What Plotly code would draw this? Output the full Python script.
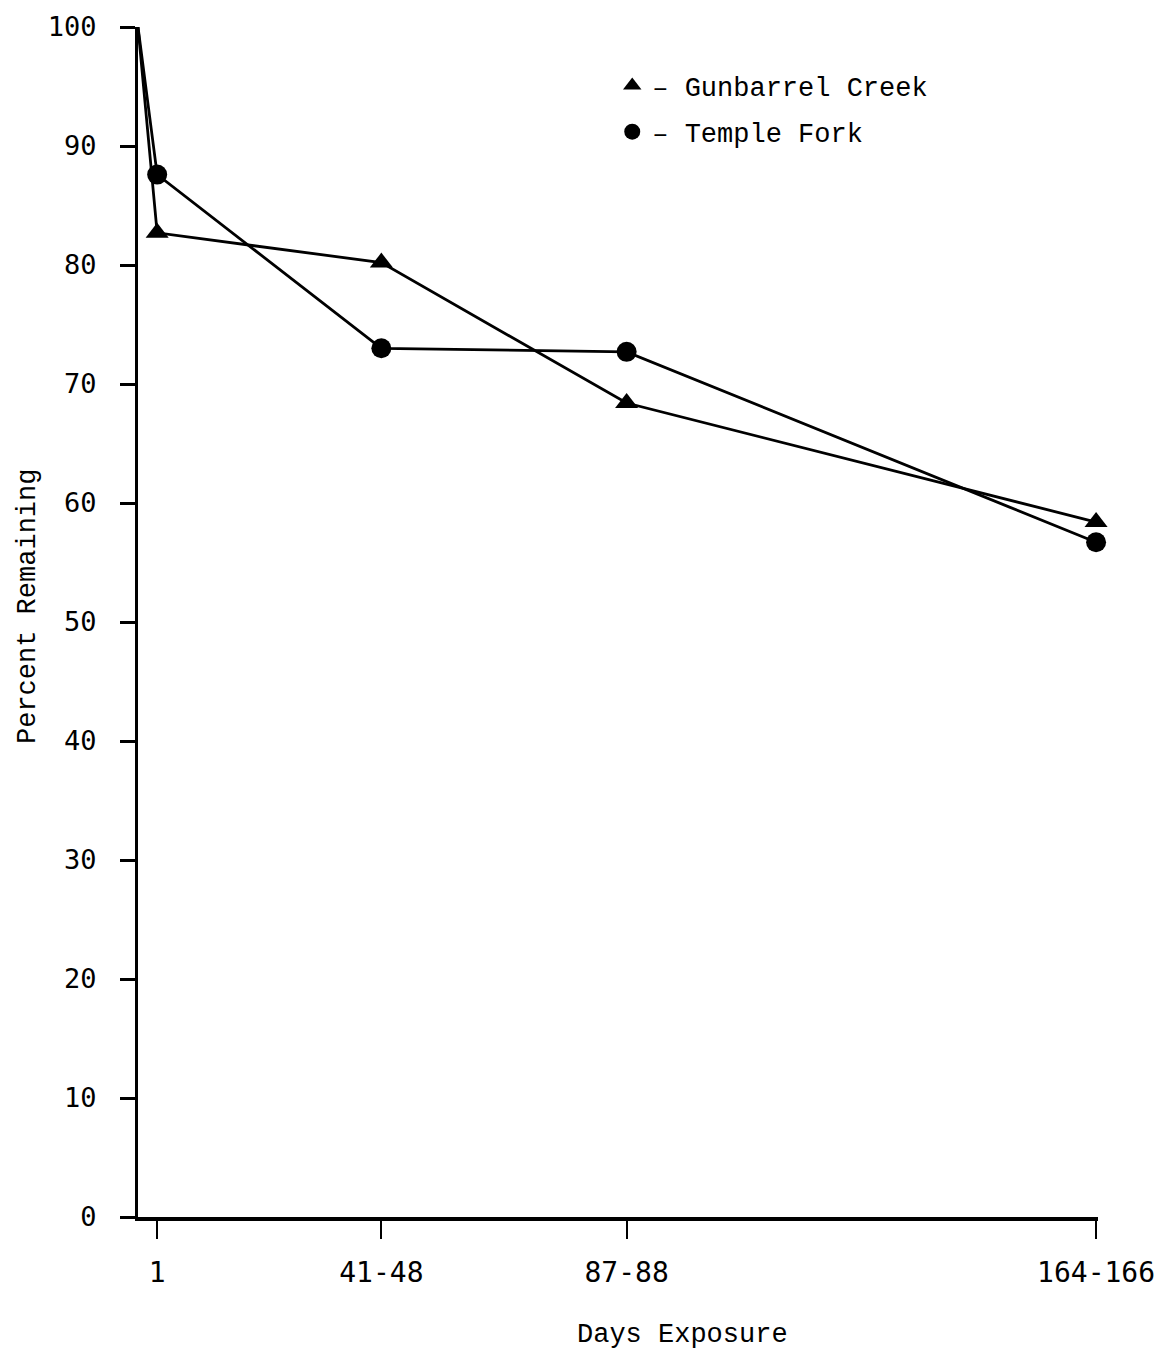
import plotly.graph_objects as go

# ---- data ----
tick_labels = ["1", "41-48", "87-88", "164-166"]
# horizontal positions of the sampling times on the original (non-linear) axis
tick_pos = [0.2, 2.54, 5.1, 10.0]
start_pos = 0.0          # day 0, 100 % remaining
start_value = 100

gunbarrel = [82.7, 80.2, 68.4, 58.4]
temple_fork = [87.6, 73.0, 72.7, 56.7]

series = [
    ("Gunbarrel Creek", gunbarrel, "triangle-up"),
    ("Temple Fork", temple_fork, "circle"),
]

YTICK_FONT = dict(family="DejaVu Sans Mono", size=27, color="black")
XTICK_FONT = dict(family="DejaVu Sans Mono", size=28, color="black")
TEXT_FONT = dict(family="Liberation Mono", size=27, color="black")

fig = go.Figure()
for i, (name, vals, sym) in enumerate(series):
    xs = [start_pos] + tick_pos
    ys = [start_value] + vals
    fig.add_trace(go.Scatter(
        x=xs, y=ys, mode="lines", line=dict(color="black", width=2.8),
        showlegend=False, cliponaxis=False, hoverinfo="skip"))
    fig.add_trace(go.Scatter(
        x=tick_pos, y=vals, mode="markers", name="\u2013 " + name,
        marker=dict(symbol=sym, size=20, color="black"),
        cliponaxis=False, legendgroup=name))

# the page body adds an 8px margin, so the figure is 16px smaller than the window
fig.update_layout(
    width=1158, height=1343,
    margin=dict(l=130, r=68, t=19, b=134),
    paper_bgcolor="white", plot_bgcolor="white",
    showlegend=True,
    legend=dict(
        x=0.494, y=0.971, xanchor="left", yanchor="top",
        font=TEXT_FONT, bgcolor="rgba(0,0,0,0)",
        tracegroupgap=8, itemsizing="trace",
    ),
    annotations=[
        dict(text="Days Exposure", xref="paper", yref="paper",
             x=(682 - 138) / 960, y=-(1335 - 1217) / 1190,
             xanchor="center", yanchor="middle", showarrow=False,
             font=TEXT_FONT),
        dict(text="Percent Remaining", xref="paper", yref="paper",
             x=-(138 - 28) / 960, y=(1217 - 607) / 1190,
             xanchor="center", yanchor="middle", showarrow=False,
             textangle=-90, font=TEXT_FONT),
    ],
)

fig.update_xaxes(
    range=[0, 10.02], showgrid=False, zeroline=False, automargin=False,
    showline=True, linecolor="black", linewidth=3.5,
    tickmode="array", tickvals=tick_pos, ticktext=tick_labels,
    ticks="outside", ticklen=18, tickwidth=2, tickcolor="black",
    tickfont=XTICK_FONT, ticklabelstandoff=10,
)
fig.update_yaxes(
    range=[0, 100], showgrid=False, zeroline=False, automargin=False,
    showline=True, linecolor="black", linewidth=3,
    tickmode="array", tickvals=list(range(0, 101, 10)),
    ticks="outside", ticklen=15, tickwidth=3, tickcolor="black",
    tickfont=YTICK_FONT, ticklabelstandoff=18,
)

fig.write_html("out.html")
